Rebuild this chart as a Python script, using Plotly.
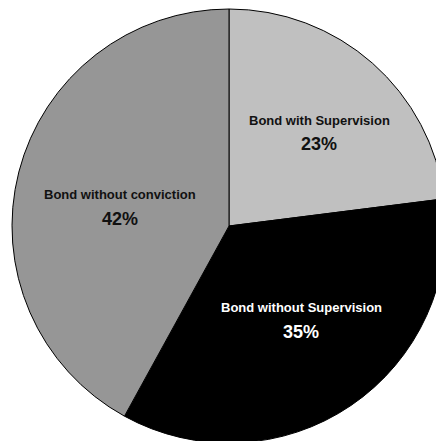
import math
import plotly.graph_objects as go

# Bond outcome shares
categories = ["Bond with Supervision", "Bond without Supervision", "Bond without conviction"]
values = [23, 35, 42]
slice_colors = ["#c0c0c0", "#000000", "#969696"]
text_colors = ["#111111", "#ffffff", "#111111"]

# Figure canvas (slightly larger than the visible window so the pie runs off the edges)
W, H = 450, 445
CX, CY, R = 229, 226, 217  # pie centre and radius in pixels (top-left origin)

# Label placement: nudge from the slice mid-angle (deg) and distance as fraction of R
label_nudge = [2.4, -3.3, -4.5]
label_rfrac = [0.600, 0.546, 0.510]

FONT = "Liberation Sans, Arial, sans-serif"

fig = go.Figure(
    go.Pie(
        labels=categories,
        values=values,
        sort=False,
        direction="clockwise",
        rotation=0,
        marker=dict(colors=slice_colors, line=dict(color="#000000", width=1)),
        textinfo="none",
        hoverinfo="label+percent",
        showlegend=False,
        domain=dict(
            x=[(CX - R) / W, (CX + R) / W],
            y=[1 - (CY + R) / H, 1 - (CY - R) / H],
        ),
    )
)

total = sum(values)
cum = 0
annotations = []
for i, (lab, v) in enumerate(zip(categories, values)):
    mid = (cum + v / 2) / total * 360 + label_nudge[i]
    cum += v
    r = label_rfrac[i] * R
    px = CX + r * math.sin(math.radians(mid))
    py = CY - r * math.cos(math.radians(mid))
    x, y = px / W, 1 - py / H
    annotations.append(dict(
        x=x, y=y, xref="paper", yref="paper", text=f"<b>{lab}</b>",
        showarrow=False, yshift=12, xanchor="center", yanchor="middle",
        font=dict(family=FONT, size=13, color=text_colors[i]),
    ))
    annotations.append(dict(
        x=x, y=y, xref="paper", yref="paper", text=f"<b>{round(v / total * 100)}%</b>",
        showarrow=False, yshift=-12, xanchor="center", yanchor="middle",
        font=dict(family=FONT, size=18, color=text_colors[i]),
    ))

fig.update_layout(
    width=W,
    height=H,
    margin=dict(l=0, r=0, t=0, b=0),
    paper_bgcolor="#ffffff",
    plot_bgcolor="#ffffff",
    annotations=annotations,
)

fig.write_html(
    "out.html",
    config={"displayModeBar": False},
    post_script="document.documentElement.style.overflow='hidden';"
                "document.body.style.overflow='hidden';document.body.style.margin='0';",
)
